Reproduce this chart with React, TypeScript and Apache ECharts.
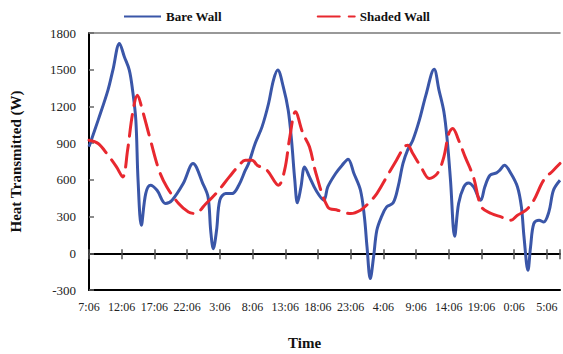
import React, { useEffect, useRef } from "react";
import * as echarts from "echarts";

// Hours elapsed since 7:06 on the first day
const bareHours = [0, 1.4, 2.9, 3.65, 4.66, 5.4, 6.16, 6.66, 7.16, 7.5, 8.0, 8.67, 9.4, 10.4, 11.7, 12.7, 14.4, 15.9, 17.4, 18.2, 18.6, 19.0, 19.5, 20.0, 20.9, 21.9, 22.9, 23.9, 24.4, 25.4, 26.45, 27.45, 28.2, 28.85, 29.7, 30.45, 30.96, 31.46, 31.86, 32.4, 32.96, 33.7, 34.7, 35.9, 36.5, 37.7, 38.7, 39.6, 40.5, 41.5, 42.1, 42.5, 43.0, 43.5, 44.0, 44.7, 45.5, 46.5, 47.25, 48.0, 48.7, 49.5, 50.5, 51.5, 52.76, 53.5, 54.25, 54.76, 55.26, 55.9, 56.5, 57.3, 58.0, 58.8, 59.5, 59.9, 60.5, 61.3, 62.3, 62.8, 63.5, 64.5, 65.5, 66.1, 66.5, 67.1, 67.5, 68.0, 68.8, 69.5, 70.3, 71.0, 72.0];
const bareValues = [870, 1088, 1333, 1497, 1715, 1606, 1497, 1333, 1088, 597, 229, 488, 556, 515, 407, 434, 570, 734, 570, 460, 188, 38, 188, 434, 488, 488, 556, 679, 734, 897, 1033, 1224, 1415, 1497, 1360, 1170, 924, 597, 412, 542, 706, 624, 515, 434, 542, 652, 720, 769, 652, 515, 297, 52, -207, -30, 188, 297, 379, 412, 542, 734, 843, 924, 1088, 1292, 1503, 1333, 1156, 924, 597, 139, 407, 542, 575, 542, 460, 434, 542, 638, 657, 679, 720, 652, 542, 379, 133, -139, 52, 243, 270, 256, 338, 515, 597];

const shadedHours = [0, 1.4, 2.9, 4.2, 5.15, 5.9, 6.66, 7.4, 8.16, 9.4, 10.7, 11.9, 13.7, 15.2, 16.2, 17.9, 19.4, 21.45, 22.95, 23.9, 24.95, 25.7, 27.2, 28.95, 29.9, 30.7, 31.56, 32.7, 33.7, 34.7, 36.5, 38.0, 40.0, 41.5, 42.7, 44.0, 45.5, 47.0, 48.2, 48.7, 49.5, 50.75, 52.0, 53.25, 54.25, 55.0, 55.6, 56.5, 57.5, 58.76, 60.0, 61.5, 63.0, 64.5, 65.5, 66.8, 68.0, 69.5, 71.0, 72.0];
const shadedValues = [924, 897, 802, 706, 624, 843, 1143, 1292, 1170, 924, 679, 542, 407, 338, 325, 407, 488, 624, 720, 761, 761, 720, 679, 556, 679, 951, 1156, 979, 870, 652, 379, 352, 325, 352, 407, 488, 624, 761, 870, 883, 815, 706, 611, 652, 788, 979, 1020, 924, 788, 624, 379, 325, 297, 270, 311, 352, 434, 597, 679, 734];

const seriesNames = ["Bare Wall", "Shaded Wall"];
const startHour = 7;
const yTicks = { min: -300, max: 1800, interval: 300 };
const xRange = { min: 0, max: 72, interval: 5 };

const FONT = "'Liberation Serif', 'Times New Roman', serif";

function hourLabel(h: number): string {
  if (h > 70.5) return "";
  const hr = (startHour + Math.round(h)) % 24;
  return hr + ":06";
}

export default function App() {
  const ref = useRef<HTMLDivElement>(null);
  useEffect(() => {
    if (!ref.current) return;
    const chart = echarts.init(ref.current, null, { renderer: "svg" });
    const bare = bareHours.map((h, i) => [h, bareValues[i]]);
    const shaded = shadedHours.map((h, i) => [h, shadedValues[i]]);
    const baseX = {
      type: "value" as const,
      min: xRange.min,
      max: xRange.max,
      interval: xRange.interval,
      splitLine: { show: false },
    };
    chart.setOption({
      animation: false,
      textStyle: { fontFamily: FONT },
      legend: {
        left: 118,
        top: 5,
        itemWidth: 37,
        itemHeight: 14,
        itemGap: 95,
        data: seriesNames,
        itemStyle: { opacity: 0, borderWidth: 0 },
        textStyle: { fontFamily: FONT, fontWeight: "bold", fontSize: 13, color: "#111" },
      },
      grid: { left: 84, right: 0, top: 33, bottom: 64, containLabel: false },
      xAxis: [
        {
          ...baseX,
          position: "bottom",
          axisLine: { show: true, onZero: false, lineStyle: { color: "#000", width: 2 } },
          axisTick: { show: false },
          axisLabel: {
            show: true,
            margin: 11,
            fontSize: 12,
            color: "#222",
            fontFamily: FONT,
            formatter: (v: number) => hourLabel(v),
          },
        },
        {
          ...baseX,
          position: "bottom",
          axisLine: { show: true, onZero: true, onZeroAxisIndex: 0, lineStyle: { color: "#000", width: 2 } },
          axisTick: { show: true, inside: false, length: 6, lineStyle: { color: "#555", width: 1.5 } },
          axisLabel: { show: false },
        },
        {
          ...baseX,
          position: "bottom",
          axisLine: { show: false, onZero: true, onZeroAxisIndex: 0 },
          axisTick: { show: true, inside: true, length: 4, lineStyle: { color: "#555", width: 1.5 } },
          axisLabel: { show: false },
        },
        {
          ...baseX,
          position: "top",
          axisLine: { show: true, onZero: false, lineStyle: { color: "#777", width: 1.5 } },
          axisTick: { show: false },
          axisLabel: { show: false },
        },
      ],
      yAxis: {
        type: "value",
        min: yTicks.min,
        max: yTicks.max,
        interval: yTicks.interval,
        splitLine: { show: false },
        name: "Heat Transmitted (W)",
        nameLocation: "middle",
        nameGap: 66,
        nameTextStyle: { fontFamily: FONT, fontWeight: "bold", fontSize: 15, color: "#111" },
        axisLine: { show: true, onZero: false, lineStyle: { color: "#000", width: 2 } },
        axisTick: { show: true, inside: true, length: 5, lineStyle: { color: "#666", width: 1.5 } },
        axisLabel: {
          margin: 13,
          fontSize: 13,
          color: "#222",
          fontFamily: FONT,
          formatter: (v: number) => String(v),
        },
      },
      graphic: [
        {
          type: "text",
          left: 288,
          top: 335,
          style: { text: "Time", fontFamily: FONT, fontWeight: "bold", fontSize: 15, fill: "#111" },
        },
      ],
      series: [
        {
          name: seriesNames[0],
          type: "line",
          data: bare,
          smooth: 0.35,
          symbol: "none",
          lineStyle: { color: "#3A56A8", width: 3 },
          itemStyle: { color: "#3A56A8" },
        },
        {
          name: seriesNames[1],
          type: "line",
          data: shaded,
          smooth: 0.35,
          symbol: "none",
          lineStyle: { color: "#E8282F", width: 3, type: [22, 9], cap: "round" },
          itemStyle: { color: "#E8282F" },
        },
      ],
    });
    return () => chart.dispose();
  }, []);
  return (
    <div
      ref={ref}
      style={{ position: "fixed", left: 0, top: 0, width: 563, height: 354, background: "#fff" }}
    />
  );
}
